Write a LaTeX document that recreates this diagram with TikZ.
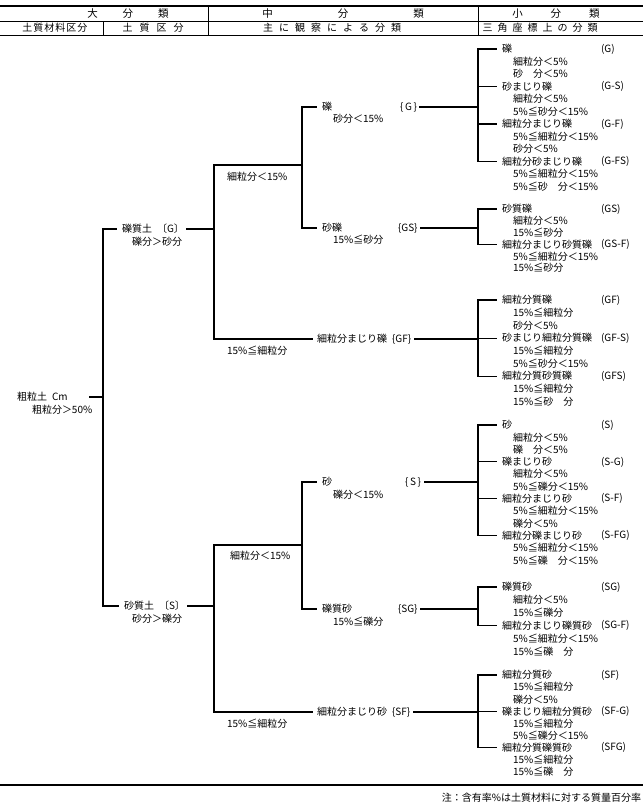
\documentclass[tikz,border=0pt]{standalone}
\usepackage{fontspec}
\setmainfont{Noto Sans CJK JP}
\makeatletter
\newcommand\spreadtxt[2]{\def\sp@gap{#1}\def\sp@first{1}\@tfor\sp@c:=#2\do{\ifnum\sp@first=1 \def\sp@first{0}\else\hspace{\sp@gap}\fi\sp@c}}
\makeatother
\newcommand\gs{12.4}
\newcommand\RI[6]{%
  \node[tx] (#1) at (502,#2) {#3};
  \node[tx] (#1c) at (601,#2) {#4};
  \node[tx] (#1a) at (513,#2+\gs) {#5};
  \node[tx] (#1b) at (513,#2+2*\gs) {#6};
}
\begin{document}
\begin{tikzpicture}[x=1pt,y=-1pt,
  every node/.style={inner sep=0pt,outer sep=0pt,font=\fontsize{10}{12}\selectfont},
  tx/.style={anchor=west},
  hd/.style={anchor=center},
  ln/.style={line width=1.1pt,line cap=rect},
  rule/.style={line width=0.9pt}]
\fill[white] (0,0) rectangle (643,807);
\useasboundingbox (0,0) rectangle (643,807);
% ---------- header ----------
\draw[line width=1.6pt] (0,6) -- (643,6);
\draw[rule] (0,21) -- (643,21);
\draw[rule] (0,35) -- (643,35);
\draw[rule] (208,6) -- (208,35);
\draw[rule] (478,6) -- (478,35);
\draw[rule] (103,21) -- (103,35);
\node[hd,font=\fontsize{10.5}{12}\selectfont] (h1) at (128,13.5) {\spreadtxt{25pt}{大分類}};
\node[hd,font=\fontsize{10.5}{12}\selectfont] (h2) at (343,13.5) {\spreadtxt{65pt}{中分類}};
\node[hd,font=\fontsize{10.5}{12}\selectfont] (h3) at (556,13.5) {\spreadtxt{28pt}{小分類}};
\node[hd] (h4) at (55,28) {\spreadtxt{1pt}{土質材料区分}};
\node[hd] (h5) at (153,28) {\spreadtxt{7pt}{土質区分}};
\node[hd] (h6) at (332,28) {\spreadtxt{6pt}{主に観察による分類}};
\node[hd] (h7) at (540,28) {\spreadtxt{5pt}{三角座標上の分類}};
% ---------- left level ----------
\node[tx] (lC) at (17,397) {粗粒土\enspace Cm};
\node[tx] (lCa) at (32,410) {粗粒分＞50\%};
\node[tx] (lG) at (122,229) {礫質土\enspace〔G〕};
\node[tx] (lGa) at (132,242) {礫分＞砂分};
\node[tx] (lS) at (124,606) {砂質土\enspace〔S〕};
\node[tx] (lSa) at (132,619) {砂分＞礫分};
\coordinate (jC) at (103,397);
\coordinate (cC) at (90,397);
\draw[ln] ([xshift=-6pt]lG.west) -| (jC);
\draw[ln] ([xshift=-6pt]lS.west) -| (jC);
\draw[ln] (cC) -- (jC);
% ---------- middle: gravel ----------
\node[tx] (fG1) at (227,177) {細粒分＜15\%};
\node[tx] (fG2) at (227,351) {15\%≦細粒分};
\node[tx] (mG) at (322,107) {礫};
\node[tx] (mGa) at (333,119) {砂分＜15\%};
\node[tx] (mGc) at (400,107) {\{\,G\,\}};
\node[tx] (mGS) at (322,228) {砂礫};
\node[tx] (mGSa) at (333,240) {15\%≦砂分};
\node[tx] (mGSc) at (398,228) {\{GS\}};
\node[tx] (mGF) at (317,339) {細粒分まじり礫\enspace\{GF\}};
\coordinate (jF1) at (302,165);
\coordinate (cG1) at (214,165);
\coordinate (cG2) at (214,339);
\coordinate (jGl) at (214,229);
\draw[ln] ([xshift=-6pt]mG.west) -| (jF1);
\draw[ln] ([xshift=-6pt]mGS.west) -| (jF1);
\draw[ln] (jF1) -- (cG1) -- (cG2) -- ([xshift=-5pt]mGF.west);
\draw[ln] ([xshift=3pt]lG.east) -- (jGl);
% ---------- middle: sand ----------
\node[tx] (fS1) at (230,556) {細粒分＜15\%};
\node[tx] (fS2) at (227,724) {15\%≦細粒分};
\node[tx] (mS) at (322,482) {砂};
\node[tx] (mSa) at (333,495) {礫分＜15\%};
\node[tx] (mSc) at (405,482) {\{\,S\,\}};
\node[tx] (mSG) at (322,609) {礫質砂};
\node[tx] (mSGa) at (333,622) {15\%≦礫分};
\node[tx] (mSGc) at (398,609) {\{SG\}};
\node[tx] (mSF) at (317,712) {細粒分まじり砂\enspace\{SF\}};
\coordinate (jF2) at (302,545);
\coordinate (cS1) at (214,545);
\coordinate (cS2) at (214,712);
\coordinate (jSl) at (214,606);
\draw[ln] ([xshift=-6pt]mS.west) -| (jF2);
\draw[ln] ([xshift=-6pt]mSG.west) -| (jF2);
\draw[ln] (jF2) -- (cS1) -- (cS2) -- ([xshift=-5pt]mSF.west);
\draw[ln] ([xshift=3pt]lS.east) -- (jSl);
% ---------- right column ----------
\coordinate (jG) at (478,107);
\coordinate (jGS) at (478,228);
\coordinate (jGF) at (478,339);
\coordinate (jS) at (478,482);
\coordinate (jSG) at (478,609);
\coordinate (jSF) at (478,712);
\draw[ln] ([xshift=3pt]mGc.east) -- (jG);
\draw[ln] ([xshift=3pt]mGSc.east) -- (jGS);
\draw[ln] ([xshift=3pt]mGF.east) -- (jGF);
\draw[ln] ([xshift=3pt]mSc.east) -- (jS);
\draw[ln] ([xshift=3pt]mSGc.east) -- (jSG);
\draw[ln] ([xshift=3pt]mSF.east) -- (jSF);
% G
\renewcommand\gs{12.45}
\RI{g1}{49}{礫}{(G)}{細粒分＜5\%}{砂　分＜5\%}
\RI{g2}{86.5}{砂まじり礫}{(G-S)}{細粒分＜5\%}{5\%≦砂分＜15\%}
\RI{g3}{124}{細粒分まじり礫}{(G-F)}{5\%≦細粒分＜15\%}{砂分＜5\%}
\RI{g4}{161.5}{細粒分砂まじり礫}{(G-FS)}{5\%≦細粒分＜15\%}{5\%≦砂　分＜15\%}
\foreach \n in {g1,g2,g3,g4} \draw[ln] ([xshift=-6pt]\n.west) -| (jG);
% GS
\renewcommand\gs{11.8}
\RI{gs1}{209}{砂質礫}{(GS)}{細粒分＜5\%}{15\%≦砂分}
\RI{gs2}{244.4}{細粒分まじり砂質礫}{(GS-F)}{5\%≦細粒分＜15\%}{15\%≦砂分}
\foreach \n in {gs1,gs2} \draw[ln] ([xshift=-6pt]\n.west) -| (jGS);
% GF
\renewcommand\gs{12.7}
\RI{gf1}{300}{細粒分質礫}{(GF)}{15\%≦細粒分}{砂分＜5\%}
\RI{gf2}{338.1}{砂まじり細粒分質礫}{(GF-S)}{15\%≦細粒分}{5\%≦砂分＜15\%}
\RI{gf3}{376.2}{細粒分質砂質礫}{(GFS)}{15\%≦細粒分}{15\%≦砂　分}
\foreach \n in {gf1,gf2,gf3} \draw[ln] ([xshift=-6pt]\n.west) -| (jGF);
% S
\renewcommand\gs{12.3}
\RI{s1}{425}{砂}{(S)}{細粒分＜5\%}{礫　分＜5\%}
\RI{s2}{461.9}{礫まじり砂}{(S-G)}{細粒分＜5\%}{5\%≦礫分＜15\%}
\RI{s3}{498.8}{細粒分まじり砂}{(S-F)}{5\%≦細粒分＜15\%}{礫分＜5\%}
\RI{s4}{535.7}{細粒分礫まじり砂}{(S-FG)}{5\%≦細粒分＜15\%}{5\%≦礫　分＜15\%}
\foreach \n in {s1,s2,s3,s4} \draw[ln] ([xshift=-6pt]\n.west) -| (jS);
% SG
\renewcommand\gs{12.9}
\RI{sg1}{587}{礫質砂}{(SG)}{細粒分＜5\%}{15\%≦礫分}
\RI{sg2}{625.7}{細粒分まじり礫質砂}{(SG-F)}{5\%≦細粒分＜15\%}{15\%≦礫　分}
\foreach \n in {sg1,sg2} \draw[ln] ([xshift=-6pt]\n.west) -| (jSG);
% SF
\renewcommand\gs{12.1}
\RI{sf1}{675}{細粒分質砂}{(SF)}{15\%≦細粒分}{礫分＜5\%}
\RI{sf2}{711.3}{礫まじり細粒分質砂}{(SF-G)}{15\%≦細粒分}{5\%≦礫分＜15\%}
\RI{sf3}{747.6}{細粒分質礫質砂}{(SFG)}{15\%≦細粒分}{15\%≦礫　分}
\foreach \n in {sf1,sf2,sf3} \draw[ln] ([xshift=-6pt]\n.west) -| (jSF);
% ---------- bottom ----------
\draw[line width=1.6pt] (0,785) -- (643,785);
\node[anchor=east] (note) at (641,798) {注：含有率\%は土質材料に対する質量百分率};
\end{tikzpicture}
\end{document}
